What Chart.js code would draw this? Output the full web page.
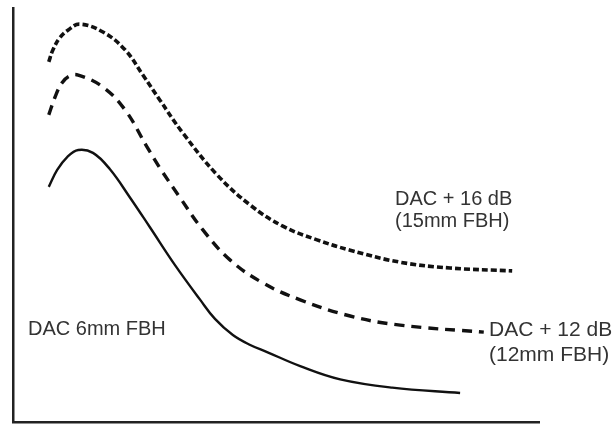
<!DOCTYPE html>
<html>
<head>
<meta charset="utf-8">
<script src="https://cdn.jsdelivr.net/npm/chart.js@4/dist/chart.umd.min.js"></script>
<style>
  html, body { margin: 0; padding: 0; background: #ffffff; }
  #wrap { width: 613px; height: 424px; position: relative; }
</style>
</head>
<body>
<div id="wrap"><canvas id="c" width="613" height="424"></canvas></div>
<script>
// Distance (0-100 arbitrary units) and amplitude (% of screen height)
const dist16 = [6.8, 7.6, 8.9, 10.5, 12.7, 17.1, 21.3, 24.7, 27.9, 32.3, 38.8, 45.1, 51.3, 57.8, 64.1, 73.6, 83.1, 94.9];
const amp16  = [87.0, 89.9, 92.8, 94.7, 96.1, 94.2, 89.9, 83.8, 77.8, 69.8, 59.7, 52.4, 47.3, 44.0, 41.5, 38.6, 37.2, 36.5];

const dist12 = [6.8, 8.0, 9.3, 10.8, 12.4, 17.1, 21.3, 25.5, 27.9, 31.7, 36.1, 41.3, 47.5, 54.6, 64.1, 73.6, 89.5];
const amp12  = [74.2, 78.5, 81.9, 83.6, 83.8, 80.9, 75.4, 66.4, 61.4, 54.3, 46.4, 39.1, 33.6, 29.5, 25.6, 23.4, 21.7];

const dist6 = [6.8, 8.4, 10.3, 12.4, 15.2, 18.4, 22.2, 26.0, 30.8, 35.6, 38.4, 41.8, 45.1, 48.3, 54.6, 62.2, 72.1, 85.0];
const amp6  = [56.8, 60.9, 64.0, 65.7, 65.0, 61.1, 54.3, 47.1, 37.9, 29.5, 24.9, 21.0, 18.6, 16.9, 13.5, 10.3, 8.3, 7.0];

const labels16 = ["DAC + 16 dB", "(15mm FBH)"];
const labels12 = ["DAC + 12 dB", "(12mm FBH)"];
const labels6  = ["DAC 6mm FBH"];

function pts(xs, ys) { return xs.map((x, i) => ({ x: x, y: ys[i] })); }

const textPlugin = {
  id: 'curveLabels',
  afterDraw(chart) {
    const ctx = chart.ctx;
    ctx.save();
    ctx.fillStyle = '#333333';
    ctx.textBaseline = 'middle';
    ctx.textAlign = 'left';
    ctx.font = '20px "Liberation Sans", Arial, sans-serif';
    ctx.fillText(labels16[0], 395, 199);
    ctx.fillText(labels16[1], 395, 221);
    ctx.fillText(labels6[0], 28, 329);
    ctx.font = '21px "Liberation Sans", Arial, sans-serif';
    ctx.fillText(labels12[0], 489, 330);
    ctx.fillText(labels12[1], 489, 355);
    ctx.restore();
  }
};

new Chart(document.getElementById('c'), {
  type: 'line',
  data: {
    datasets: [
      { label: 'DAC + 16 dB', data: pts(dist16, amp16), borderColor: '#111', borderWidth: 3.6, borderDash: [6, 3], pointRadius: 0, fill: false, tension: 0.4 },
      { label: 'DAC + 12 dB', data: pts(dist12, amp12), borderColor: '#111', borderWidth: 3.4, borderDash: [10, 7], pointRadius: 0, fill: false, tension: 0.4 },
      { label: 'DAC 6mm FBH', data: pts(dist6, amp6), borderColor: '#111', borderWidth: 2.4, pointRadius: 0, fill: false, tension: 0.4 }
    ]
  },
  options: {
    responsive: false,
    animation: false,
    devicePixelRatio: 1,
    layout: { padding: { left: 13, right: 74, top: 8, bottom: 2 } },
    plugins: { legend: { display: false }, tooltip: { enabled: false } },
    scales: {
      x: { type: 'linear', min: 0, max: 100, grid: { display: false, drawTicks: false }, ticks: { display: false }, border: { display: true, color: '#222', width: 2.5 } },
      y: { type: 'linear', min: 0, max: 100, grid: { display: false, drawTicks: false }, ticks: { display: false }, border: { display: true, color: '#222', width: 2.5 } }
    }
  },
  plugins: [textPlugin]
});
</script>
</body>
</html>
